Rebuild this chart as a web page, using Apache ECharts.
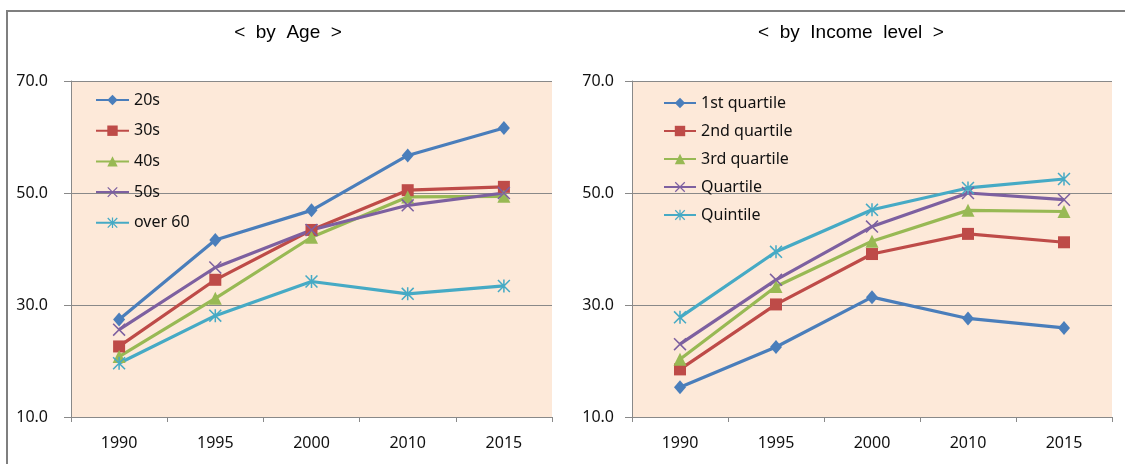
<!DOCTYPE html>
<html>
<head>
<meta charset="utf-8">
<title>by Age / by Income level</title>
<script src="https://cdn.jsdelivr.net/npm/echarts@6/dist/echarts.min.js"></script>
<style>
html, body { margin: 0; padding: 0; background: #fff; }
#chart { width: 1125px; height: 464px; }
</style>
</head>
<body>
<div id="chart"></div>
<script>
var years = ['1990', '1995', '2000', '2010', '2015'];
var yTicks = [10, 30, 50, 70];

var ageNames = ['20s', '30s', '40s', '50s', 'over 60'];
var age20s = [27.4, 41.6, 46.9, 56.7, 61.6];
var age30s = [22.6, 34.5, 43.4, 50.5, 51.1];
var age40s = [20.8, 31.2, 42.1, 49.3, 49.4];
var age50s = [25.6, 36.7, 43.4, 47.8, 50.0];
var ageOver60 = [19.6, 28.1, 34.2, 32.0, 33.4];

var incomeNames = ['1st quartile', '2nd quartile', '3rd quartile', 'Quartile', 'Quintile'];
var income1st = [15.3, 22.5, 31.4, 27.6, 25.9];
var income2nd = [18.5, 30.1, 39.1, 42.7, 41.2];
var income3rd = [20.3, 33.3, 41.4, 46.9, 46.7];
var incomeQuartile = [23.0, 34.5, 44.0, 50.0, 48.8];
var incomeQuintile = [27.8, 39.5, 47.0, 50.9, 52.5];

var colors = ['#4A7EBB', '#BE4B48', '#98B954', '#7D60A0', '#46AAC5'];
var crossPath = 'path://M0,1 L1,0 L12,11 L11,12 Z M11,0 L12,1 L1,12 L0,11 Z';
var starPath = 'path://M0,1 L1,0 L12,11 L11,12 Z M11,0 L12,1 L1,12 L0,11 Z M5.3,0 L6.7,0 L6.7,12 L5.3,12 Z';
var marks = ['diamond', 'rect', 'triangle', crossPath, starPath];
var markSizes = [[12, 14], 12, 13, 13, 13];

var tickFont = 'Noto Sans';
var tickColor = '#111';
var axisGray = '#898989';

function makeSeries(names, values, idx) {
  return names.map(function (name, i) {
    return {
      name: name,
      type: 'line',
      xAxisIndex: idx,
      yAxisIndex: idx,
      data: values[i],
      symbol: marks[i],
      symbolSize: markSizes[i],
      showAllSymbol: true,
      lineStyle: { width: 3.2, color: colors[i] },
      itemStyle: { color: colors[i], borderWidth: 0 },
      emphasis: { disabled: true }
    };
  });
}

function makeX(idx) {
  return {
    type: 'category',
    gridIndex: idx,
    data: years,
    boundaryGap: true,
    axisLine: { lineStyle: { color: axisGray, width: 1 } },
    axisTick: { show: true, length: 5, lineStyle: { color: axisGray } },
    axisLabel: { margin: 18, fontFamily: tickFont, fontSize: 16, color: tickColor },
    splitLine: { show: false }
  };
}

function makeY(idx, margin) {
  return {
    type: 'value',
    gridIndex: idx,
    min: yTicks[0],
    max: yTicks[yTicks.length - 1],
    interval: yTicks[1] - yTicks[0],
    axisLine: { show: true, lineStyle: { color: axisGray, width: 1 } },
    axisTick: { show: true, length: 7, lineStyle: { color: axisGray } },
    splitLine: { show: true, lineStyle: { color: axisGray, width: 1 } },
    axisLabel: {
      margin: margin,
      fontFamily: tickFont,
      fontSize: 16,
      color: tickColor,
      formatter: function (v) { return v.toFixed(1); }
    }
  };
}

var legendText = { fontFamily: tickFont, fontSize: 16, color: tickColor, lineHeight: 16 };

var option = {
  animation: false,
  backgroundColor: '#fff',
  title: [
    {
      text: '<  by  Age  >',
      left: 288, top: 23, textAlign: 'center', padding: 0,
      textStyle: { fontFamily: 'Liberation Sans', fontSize: 19, fontWeight: 'normal', color: '#000' }
    },
    {
      text: '<  by  Income  level  >',
      left: 851, top: 23, textAlign: 'center', padding: 0,
      textStyle: { fontFamily: 'Liberation Sans', fontSize: 19, fontWeight: 'normal', color: '#000' }
    }
  ],
  legend: [
    {
      data: ageNames, orient: 'vertical', left: 95, top: 92, padding: 0,
      itemWidth: 33, itemHeight: 13, itemGap: 14.7,
      textStyle: legendText, selectedMode: false
    },
    {
      data: incomeNames, orient: 'vertical', left: 663, top: 95, padding: 0,
      itemWidth: 32, itemHeight: 13, itemGap: 12,
      textStyle: legendText, selectedMode: false
    }
  ],
  grid: [
    { left: 71, top: 81, width: 481, height: 336, show: true, backgroundColor: '#FDE9D9', borderWidth: 0 },
    { left: 632, top: 81, width: 480, height: 336, show: true, backgroundColor: '#FDE9D9', borderWidth: 0 }
  ],
  xAxis: [makeX(0), makeX(1)],
  yAxis: [makeY(0, 23), makeY(1, 18)],
  graphic: [
    {
      type: 'rect', silent: true,
      shape: { x: 7, y: 11, width: 1300, height: 600 },
      style: { fill: 'none', stroke: '#7f7f7f', lineWidth: 2 }
    }
  ],
  series: makeSeries(ageNames, [age20s, age30s, age40s, age50s, ageOver60], 0)
    .concat(makeSeries(incomeNames, [income1st, income2nd, income3rd, incomeQuartile, incomeQuintile], 1))
};

var myChart = echarts.init(document.getElementById('chart'));
myChart.setOption(option);
</script>
</body>
</html>
